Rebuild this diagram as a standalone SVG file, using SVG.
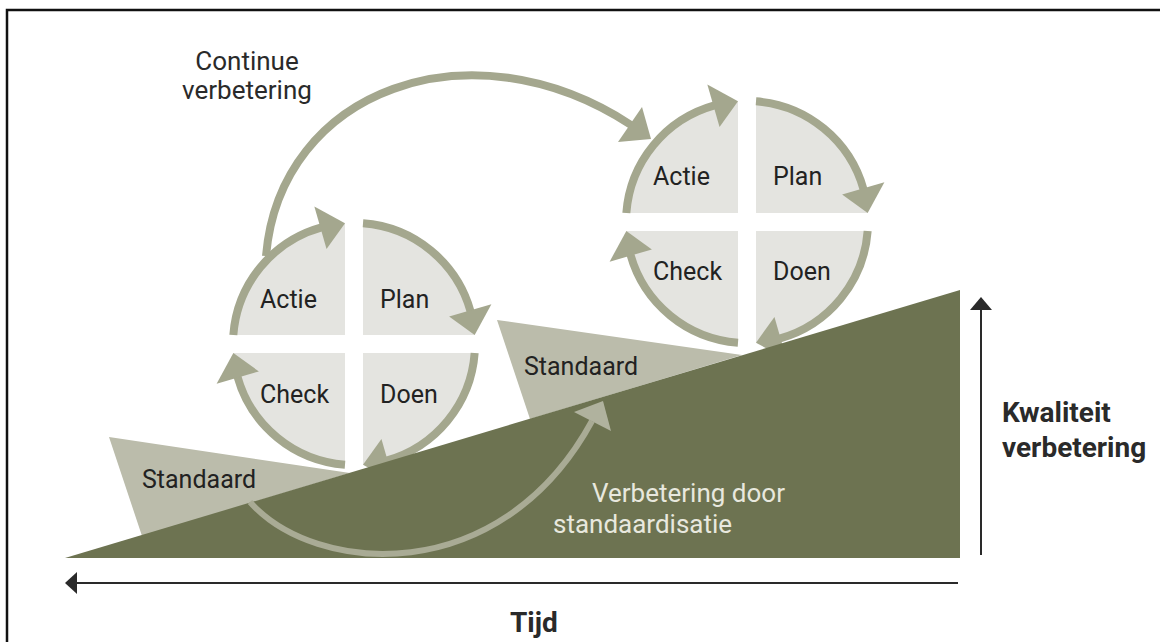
<svg xmlns="http://www.w3.org/2000/svg" xmlns:xlink="http://www.w3.org/1999/xlink" width="1160" height="642" viewBox="0 0 1160 642">
<style>
.qf{fill:#e4e4e0}
.qa{fill:none;stroke:#a4a78e;stroke-width:8}
.qh{fill:#a4a78e}
.lbl{font-family:Roboto,"Liberation Sans",sans-serif;font-size:25px;fill:#222}
.std{fill:#bbbcab}
.base{fill:#6d7351}
.flow{fill:none;stroke:#a4a78e;stroke-width:8}
.flowh{fill:#a4a78e}
.low{fill:none;stroke:#a9ab95;stroke-width:6}
.lowh{fill:#b0b29e}
.axis{stroke:#2a2a2a;stroke-width:2;fill:none}
.axh{fill:#2a2a2a}
.ttl{font-family:Roboto,"Liberation Sans",sans-serif;font-size:26px;fill:#2a2a2a}
.inv{font-family:Roboto,"Liberation Sans",sans-serif;font-size:26px;fill:#e8e8de}
.bold{font-family:Roboto,"Liberation Sans",sans-serif;font-size:28px;font-weight:bold;fill:#2a2a2a}
</style>
<defs>
<g id="q">
<path class="qf" d="M-9,-9 L-120.66,-9 A121,121 0 0 1 -9,-120.66 Z"/>
<path class="qa" d="M-120.66,-9 A121,121 0 0 1 -32.5,-116.6"/>
<polygon class="qh" points="-27.45,-95.12 -8.99,-120.67 -39.65,-137.39"/>
</g>
</defs>
<rect width="1160" height="642" fill="#ffffff"/>
<path d="M7,642 L7,10 L1160,10" fill="none" stroke="#111" stroke-width="2.5"/>

<g id="standaard-1">
<polygon class="std" points="109,437 350,473 142,536"/>
</g>
<g id="standaard-2">
<polygon class="std" points="497,320 742,355 530,419"/>
</g>

<g id="pdca-1">
<use xlink:href="#q" href="#q" transform="translate(354,344)"/>
<use xlink:href="#q" href="#q" transform="translate(354,344) rotate(90)"/>
<use xlink:href="#q" href="#q" transform="translate(354,344) rotate(180)"/>
<use xlink:href="#q" href="#q" transform="translate(354,344) rotate(270)"/>
</g>
<g id="pdca-2">
<use xlink:href="#q" href="#q" transform="translate(747,222)"/>
<use xlink:href="#q" href="#q" transform="translate(747,222) rotate(90)"/>
<use xlink:href="#q" href="#q" transform="translate(747,222) rotate(180)"/>
<use xlink:href="#q" href="#q" transform="translate(747,222) rotate(270)"/>
</g>

<g id="connectors">
<path class="flow" d="M266,256 C280,90 470,20 631,125"/>
<polygon class="flowh" points="642,107 651,139 618,142"/>
</g>

<g id="kwaliteit-basis">
<polygon class="base" points="65,558 960,290 960,558"/>
</g>

<g id="connectors-2">
<path class="low" d="M250,502 C315,575 500,590 592,421"/>
<polygon class="lowh" points="574,412 603,401 611,431"/>
<line class="axis" x1="958" y1="583" x2="74" y2="583"/>
<polygon class="axh" points="65,583 77,572 77,594"/>
<line class="axis" x1="981" y1="555" x2="981" y2="306"/>
<polygon class="axh" points="981,297 970,310 992,310"/>
</g>

<g id="labels">
<text class="lbl" x="260" y="308">Actie</text>
<text class="lbl" x="380" y="308">Plan</text>
<text class="lbl" x="260" y="403">Check</text>
<text class="lbl" x="380" y="403">Doen</text>
<text class="lbl" x="653" y="185">Actie</text>
<text class="lbl" x="773" y="185">Plan</text>
<text class="lbl" x="653" y="280">Check</text>
<text class="lbl" x="773" y="280">Doen</text>
<text class="lbl" x="142" y="488">Standaard</text>
<text class="lbl" x="524" y="375">Standaard</text>
<text class="ttl" x="247" y="70" text-anchor="middle">Continue</text>
<text class="ttl" x="247" y="99" text-anchor="middle">verbetering</text>
<text class="inv" x="592" y="502">Verbetering door</text>
<text class="inv" x="553" y="533">standaardisatie</text>
<text class="bold" x="1002" y="422">Kwaliteit</text>
<text class="bold" x="1002" y="457">verbetering</text>
<text class="bold" x="510" y="632">Tijd</text>
</g>
</svg>
